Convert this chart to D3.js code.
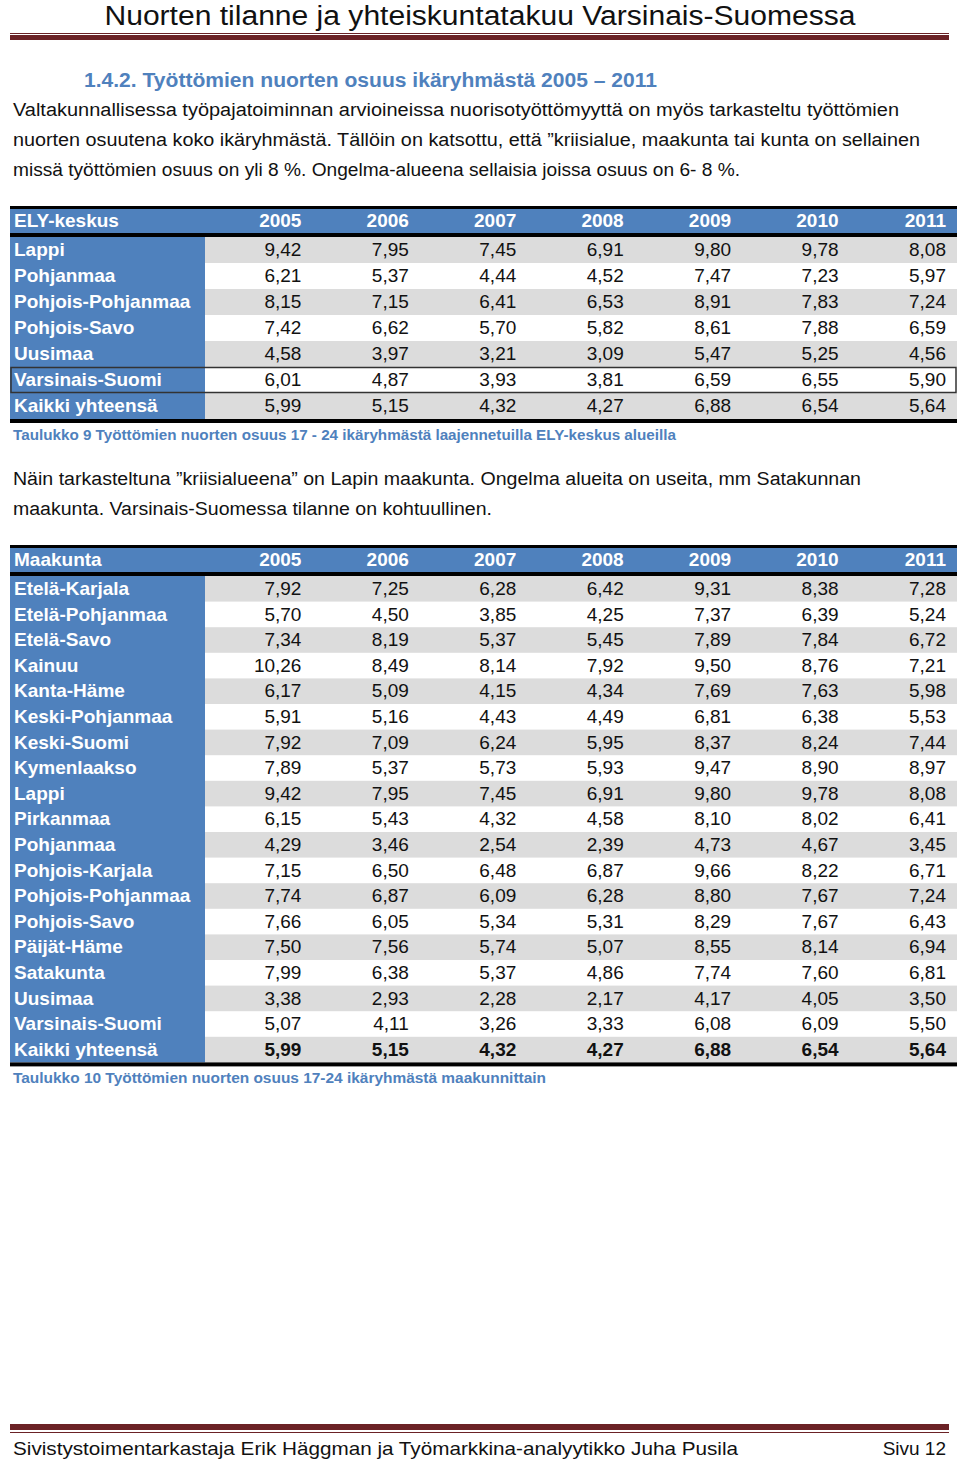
<!DOCTYPE html>
<html>
<head>
<meta charset="utf-8">
<script src="https://cdn.jsdelivr.net/npm/d3@7"></script>
<style>
  body { margin: 0; background: #fff; }
  svg text { font-family: 'Liberation Sans', Arial, sans-serif; }
</style>
</head>
<body>
<div id="viz"></div>
<script>
const width = 960;
const height = 1461;
const blue = '#4f81bd';
const stripe = '#dcdcdc';
const rule = '#6b2226';

// Data
const years = ['2005', '2006', '2007', '2008', '2009', '2010', '2011'];

const elyRegions = ['Lappi', 'Pohjanmaa', 'Pohjois-Pohjanmaa', 'Pohjois-Savo', 'Uusimaa', 'Varsinais-Suomi', 'Kaikki yhteensä'];
const elyValues = [
  [9.42, 7.95, 7.45, 6.91, 9.80, 9.78, 8.08],
  [6.21, 5.37, 4.44, 4.52, 7.47, 7.23, 5.97],
  [8.15, 7.15, 6.41, 6.53, 8.91, 7.83, 7.24],
  [7.42, 6.62, 5.70, 5.82, 8.61, 7.88, 6.59],
  [4.58, 3.97, 3.21, 3.09, 5.47, 5.25, 4.56],
  [6.01, 4.87, 3.93, 3.81, 6.59, 6.55, 5.90],
  [5.99, 5.15, 4.32, 4.27, 6.88, 6.54, 5.64]
];

const maakunnat = ['Etelä-Karjala', 'Etelä-Pohjanmaa', 'Etelä-Savo', 'Kainuu', 'Kanta-Häme', 'Keski-Pohjanmaa',
  'Keski-Suomi', 'Kymenlaakso', 'Lappi', 'Pirkanmaa', 'Pohjanmaa', 'Pohjois-Karjala', 'Pohjois-Pohjanmaa',
  'Pohjois-Savo', 'Päijät-Häme', 'Satakunta', 'Uusimaa', 'Varsinais-Suomi', 'Kaikki yhteensä'];
const maakuntaValues = [
  [7.92, 7.25, 6.28, 6.42, 9.31, 8.38, 7.28],
  [5.70, 4.50, 3.85, 4.25, 7.37, 6.39, 5.24],
  [7.34, 8.19, 5.37, 5.45, 7.89, 7.84, 6.72],
  [10.26, 8.49, 8.14, 7.92, 9.50, 8.76, 7.21],
  [6.17, 5.09, 4.15, 4.34, 7.69, 7.63, 5.98],
  [5.91, 5.16, 4.43, 4.49, 6.81, 6.38, 5.53],
  [7.92, 7.09, 6.24, 5.95, 8.37, 8.24, 7.44],
  [7.89, 5.37, 5.73, 5.93, 9.47, 8.90, 8.97],
  [9.42, 7.95, 7.45, 6.91, 9.80, 9.78, 8.08],
  [6.15, 5.43, 4.32, 4.58, 8.10, 8.02, 6.41],
  [4.29, 3.46, 2.54, 2.39, 4.73, 4.67, 3.45],
  [7.15, 6.50, 6.48, 6.87, 9.66, 8.22, 6.71],
  [7.74, 6.87, 6.09, 6.28, 8.80, 7.67, 7.24],
  [7.66, 6.05, 5.34, 5.31, 8.29, 7.67, 6.43],
  [7.50, 7.56, 5.74, 5.07, 8.55, 8.14, 6.94],
  [7.99, 6.38, 5.37, 4.86, 7.74, 7.60, 6.81],
  [3.38, 2.93, 2.28, 2.17, 4.17, 4.05, 3.50],
  [5.07, 4.11, 3.26, 3.33, 6.08, 6.09, 5.50],
  [5.99, 5.15, 4.32, 4.27, 6.88, 6.54, 5.64]
];

const pageTitle = 'Nuorten tilanne ja yhteiskuntatakuu Varsinais-Suomessa';
const sectionTitle = '1.4.2. Työttömien nuorten osuus ikäryhmästä 2005 – 2011';
const intro = [
  'Valtakunnallisessa työpajatoiminnan arvioineissa nuorisotyöttömyyttä on myös tarkasteltu työttömien',
  'nuorten osuutena koko ikäryhmästä. Tällöin on katsottu, että ”kriisialue, maakunta tai kunta on sellainen',
  'missä työttömien osuus on yli 8 %. Ongelma-alueena sellaisia joissa osuus on 6- 8 %.'
];
const caption1 = 'Taulukko 9 Työttömien nuorten osuus 17 - 24 ikäryhmästä laajennetuilla ELY-keskus alueilla';
const middle = [
  'Näin tarkasteltuna ”kriisialueena” on Lapin maakunta. Ongelma alueita on useita, mm Satakunnan',
  'maakunta. Varsinais-Suomessa tilanne on kohtuullinen.'
];
const caption2 = 'Taulukko 10 Työttömien nuorten osuus 17-24 ikäryhmästä maakunnittain';
const footerLeft = 'Sivistystoimentarkastaja Erik Häggman ja Työmarkkina-analyytikko Juha Pusila';
const footerRight = 'Sivu 12';

const fmt = v => v.toFixed(2).replace('.', ',');

const svg = d3.select('#viz')
  .append('svg')
    .attr('width', width)
    .attr('height', height)
    .attr('viewBox', [0, 0, width, height]);

// Page header
svg.append('text')
    .attr('x', 480).attr('y', 25)
    .attr('text-anchor', 'middle')
    .attr('textLength', 751).attr('lengthAdjust', 'spacingAndGlyphs')
    .style('font-size', '27px').attr('fill', '#111')
    .text(pageTitle);
svg.append('rect').attr('x', 10).attr('y', 33).attr('width', 939).attr('height', 1).attr('fill', rule);
svg.append('rect').attr('x', 10).attr('y', 35).attr('width', 939).attr('height', 5).attr('fill', rule);

// Section heading and text
svg.append('text')
    .attr('x', 84).attr('y', 87)
    .attr('textLength', 573).attr('lengthAdjust', 'spacingAndGlyphs')
    .style('font-size', '20px').style('font-weight', 'bold').attr('fill', blue)
    .text(sectionTitle);

const paraWidths1 = [886, 907, 727];
svg.append('g').selectAll('text')
  .data(intro)
  .join('text')
    .attr('x', 13).attr('y', (d, i) => 116 + i * 30)
    .attr('textLength', (d, i) => paraWidths1[i]).attr('lengthAdjust', 'spacingAndGlyphs')
    .style('font-size', '18px').attr('fill', '#111')
    .text(d => d);

// Table drawing
const drawTable = (opts) => {
  const {top, headerLabel, rows, values, rowH, caption, captionWidth, boldLast, boxRow} = opts;
  const left = 10, right = 957, labelW = 195;
  const headTop = top + 3, headH = 24;
  const bodyTop = headTop + headH + 4;
  const bodyBottom = bodyTop + rows.length * rowH;

  const xScale = d3.scaleBand().domain(years).range([left + labelW, right]);
  const yScale = d3.scaleBand().domain(rows).range([bodyTop, bodyBottom]);

  const g = svg.append('g').attr('class', 'table');

  // header band
  g.append('rect').attr('x', left).attr('y', headTop).attr('width', right - left).attr('height', headH).attr('fill', blue);
  g.append('text')
      .attr('x', left + 4).attr('y', headTop + headH / 2)
      .attr('dy', '0.3em')
      .style('font-size', '19px').style('font-weight', 'bold').attr('fill', '#fff')
      .text(headerLabel);
  g.selectAll('.year')
    .data(years)
    .join('text')
      .attr('class', 'year')
      .attr('x', d => xScale(d) + xScale.bandwidth() - 11)
      .attr('y', headTop + headH / 2)
      .attr('dy', '0.3em')
      .attr('text-anchor', 'end')
      .style('font-size', '19px').style('font-weight', 'bold').attr('fill', '#fff')
      .text(d => d);

  // row backgrounds
  g.append('rect').attr('x', left).attr('y', bodyTop).attr('width', labelW).attr('height', bodyBottom - bodyTop).attr('fill', blue);
  g.selectAll('.stripe')
    .data(rows.filter((d, i) => i % 2 === 0 && d !== boxRow))
    .join('rect')
      .attr('class', 'stripe')
      .attr('x', left + labelW).attr('y', d => yScale(d))
      .attr('width', right - left - labelW).attr('height', yScale.bandwidth())
      .attr('fill', stripe);

  // row labels
  g.selectAll('.label')
    .data(rows)
    .join('text')
      .attr('class', 'label')
      .attr('x', left + 4).attr('y', d => yScale(d) + yScale.bandwidth() / 2)
      .attr('dy', '0.33em')
      .style('font-size', '19px').style('font-weight', 'bold').attr('fill', '#fff')
      .text(d => d);

  // cells
  rows.forEach((r, ri) => {
    g.append('g').selectAll('text')
      .data(values[ri])
      .join('text')
        .attr('x', (d, i) => xScale(years[i]) + xScale.bandwidth() - 11)
        .attr('y', yScale(r) + yScale.bandwidth() / 2)
        .attr('dy', '0.33em')
        .attr('text-anchor', 'end')
        .style('font-size', '19px')
        .style('font-weight', boldLast && ri === rows.length - 1 ? 'bold' : 'normal')
        .attr('fill', '#111')
        .text(d => fmt(d));
  });

  if (boxRow) {
    g.append('rect')
        .attr('x', left + 1).attr('y', yScale(boxRow) + 0.5)
        .attr('width', right - left - 2).attr('height', yScale.bandwidth() - 1)
        .attr('fill', 'none').attr('stroke', '#333').attr('stroke-width', 1.5);
  }

  // rules
  g.append('rect').attr('x', left).attr('y', top).attr('width', right - left).attr('height', 3).attr('fill', '#000');
  g.append('rect').attr('x', left).attr('y', headTop + headH).attr('width', right - left).attr('height', 4).attr('fill', '#000');
  g.append('rect').attr('x', left).attr('y', bodyBottom).attr('width', right - left).attr('height', 4).attr('fill', '#000');

  g.append('text')
      .attr('x', 13).attr('y', bodyBottom + 21)
      .attr('textLength', captionWidth).attr('lengthAdjust', 'spacingAndGlyphs')
      .style('font-size', '14px').style('font-weight', 'bold').attr('fill', blue)
      .text(caption);
};

drawTable({
  top: 206, headerLabel: 'ELY-keskus', rows: elyRegions, values: elyValues, rowH: 26,
  caption: caption1, captionWidth: 663, boldLast: false, boxRow: 'Varsinais-Suomi'
});

const paraWidths2 = [848, 479];
svg.append('g').selectAll('text')
  .data(middle)
  .join('text')
    .attr('x', 13).attr('y', (d, i) => 485 + i * 30)
    .attr('textLength', (d, i) => paraWidths2[i]).attr('lengthAdjust', 'spacingAndGlyphs')
    .style('font-size', '18px').attr('fill', '#111')
    .text(d => d);

drawTable({
  top: 545, headerLabel: 'Maakunta', rows: maakunnat, values: maakuntaValues, rowH: 25.6,
  caption: caption2, captionWidth: 533, boldLast: true, boxRow: null
});

// Page footer
svg.append('rect').attr('x', 10).attr('y', 1424).attr('width', 939).attr('height', 6).attr('fill', rule);
svg.append('rect').attr('x', 10).attr('y', 1432).attr('width', 939).attr('height', 1).attr('fill', rule);
svg.append('text')
    .attr('x', 13).attr('y', 1455)
    .attr('textLength', 725).attr('lengthAdjust', 'spacingAndGlyphs')
    .style('font-size', '19px').attr('fill', '#111')
    .text(footerLeft);
svg.append('text')
    .attr('x', 946).attr('y', 1455)
    .attr('text-anchor', 'end')
    .style('font-size', '19px').attr('fill', '#111')
    .text(footerRight);
</script>
</body>
</html>
